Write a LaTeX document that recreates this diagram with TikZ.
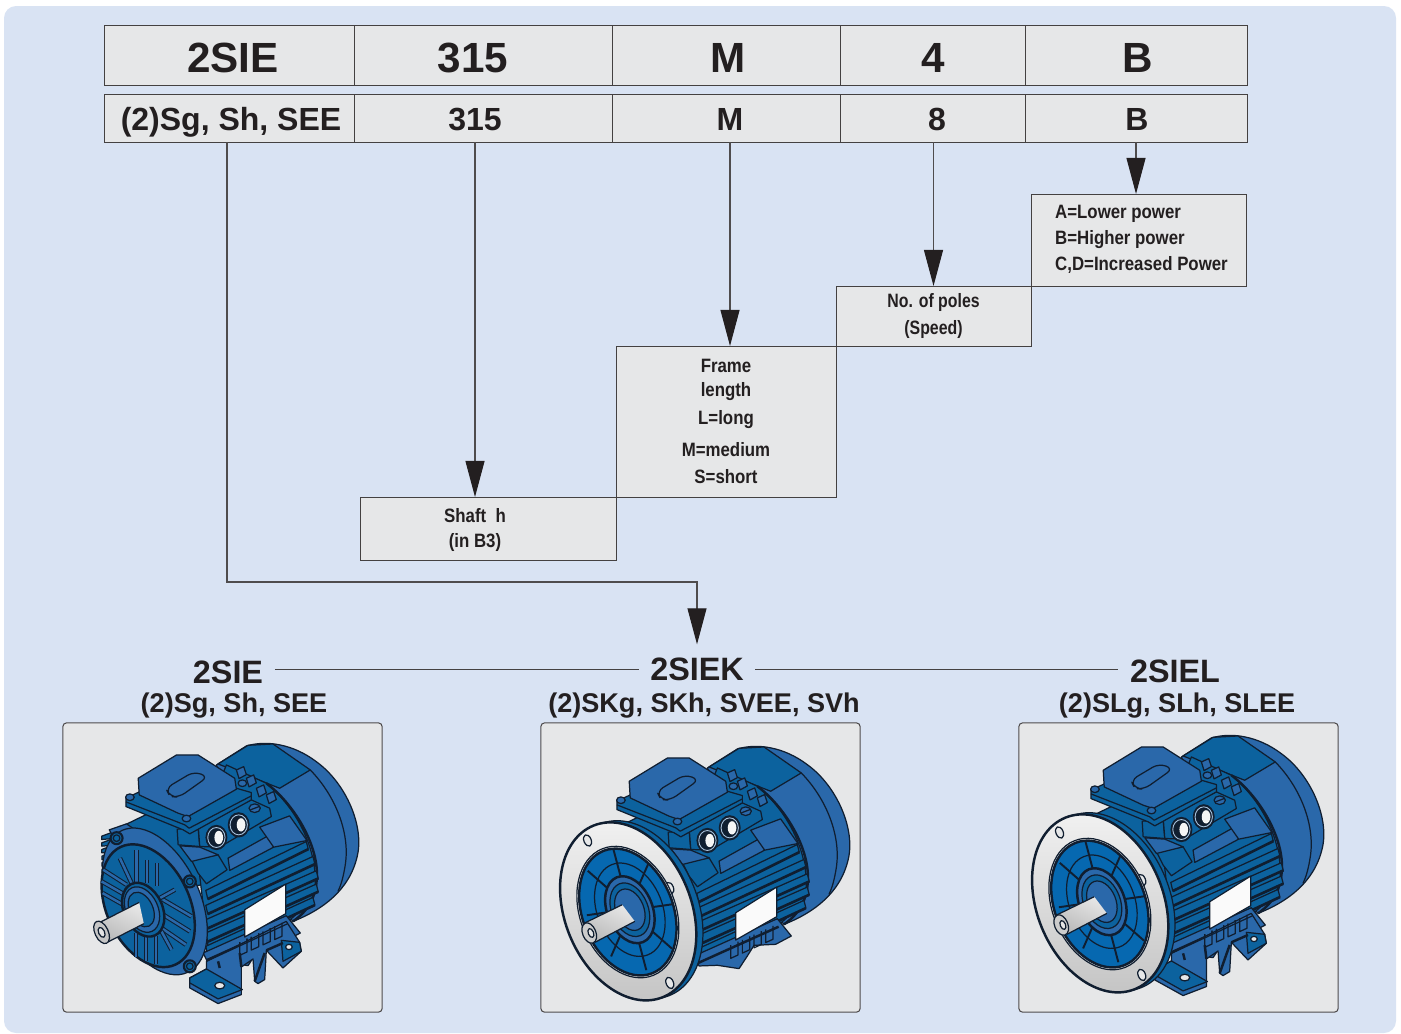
\documentclass[tikz,border=0pt]{standalone}
\usepackage{fontspec}
\setmainfont{Liberation Sans}
\newfontfamily\legendfont[FakeStretch=.87]{Liberation Sans}
\newfontfamily\polesfont[FakeStretch=.82]{Liberation Sans}
\usetikzlibrary{arrows.meta,positioning,calc}
\definecolor{panelBlue}{RGB}{217,227,243}
\definecolor{cellGray}{RGB}{230,231,232}
\definecolor{inkDark}{RGB}{35,31,32}
\definecolor{motorBlue}{RGB}{42,104,170}
\definecolor{motorDeep}{RGB}{12,98,158}
\definecolor{motorBright}{RGB}{6,104,176}
\definecolor{motorInk}{RGB}{16,30,48}
\tikzset{
  motorline/.style={draw=motorInk, line width=.35pt, line join=round},
  motorheavy/.style={draw=motorInk, line width=.7pt, line join=round},
  motorrib/.style={draw=motorInk, line width=.3pt, double=motorBlue, double distance=.7pt},
  motorrear/.pic={
    % fan cover
    \path[motorline, fill=motorBlue] (470,135) -- (560,78) .. controls (620,60) and (700,72) .. (770,125)
      .. controls (860,190) and (915,320) .. (893,410) .. controls (870,510) and (790,570) .. (700,605) -- (600,500) -- cycle;
    \path[motorline, fill=motorDeep] (475,132) -- (565,76) -- (640,72) -- (752,150) -- (660,205) -- cycle;
    \draw[motorline] (752,150) .. controls (830,230) and (870,340) .. (858,430) .. controls (852,470) and (845,495) .. (835,515);
    % body
    \path[motorline, fill=motorDeep] (185,320) -- (350,240) -- (500,200) -- (500,480) -- (400,500) -- cycle;
    \path[motorline, fill=motorDeep] (420,330) -- (500,135) -- (620,190) .. controls (720,270) and (790,420) .. (760,540)
      -- (680,610) -- (450,725) -- (420,470) -- cycle;
    \draw[motorheavy] (620,190) .. controls (700,250) and (775,370) .. (772,470) .. controls (770,530) and (745,575) .. (700,605);
    % stepped lugs beside the box
    \foreach \lugx/\lugy in {530/150,560/175,590/205,620/225} {
      \path[motorline, fill=motorBlue] (\lugx,\lugy) -- (\lugx+22,\lugy-10) -- (\lugx+30,\lugy+14) -- (\lugx+8,\lugy+26) -- cycle;
    }
    % fins
    \foreach \finy/\finx in {0/740,45/760,88/770,128/770,168/760} {
      \path[motorline, fill=motorDeep] (438,512+\finy) -- (\finx,365+\finy) -- (\finx+6,388+\finy) -- (444,538+\finy) -- cycle;
      \draw[line width=.75pt, draw=motorInk] (444,538+\finy) -- (\finx+6,388+\finy);
    }
    \path[motorline, fill=motorBlue] (505,415) -- (625,348) -- (642,382) -- (510,452) -- cycle;
    \path[motorline, fill=motorBlue] (600,322) -- (690,288) -- (742,362) -- (642,382) -- cycle;
    \path[motorline, fill=motorDeep] (395,420) -- (475,405) -- (502,450) -- (440,492) -- (415,460) -- cycle;
    % rail under the fins
    \path[motorline, fill=motorBlue] (430,700) -- (680,588) -- (722,640) -- (675,665) -- (610,668) -- (590,700) -- (565,738) -- (500,728) -- (445,730) -- cycle;
    \draw[motorheavy] (440,722) -- (684,612);
    \foreach \blockx in {540,575,610,645} {
      \draw[motorline] (\blockx,\blockx*-.45+910) -- (\blockx,\blockx*-.45+950) -- (\blockx+22,\blockx*-.45+940) -- (\blockx+22,\blockx*-.45+900);
    }
    % nameplate
    \path[motorline, fill=white!96!gray] (555,570) -- (678,493) -- (678,582) -- (555,652) -- cycle;
    % terminal box
    \path[motorline, fill=motorDeep] (352,328) -- (415,325) -- (420,380) -- (355,375) -- cycle;
    \path[motorline, fill=motorBlue] (360,378) -- (420,382) -- (475,405) -- (395,425) -- cycle;
    \path[motorline, fill=motorDeep] (415,315) -- (575,240) -- (630,265) -- (635,290) -- (480,382) -- (420,380) -- cycle;
    \path[motorline, fill=motorDeep] (198,235) -- (240,215) -- (385,285) -- (530,205) -- (575,218) -- (575,240) -- (390,342) -- (370,330) -- (198,260) -- cycle;
    \draw[motorline] (198,246) -- (375,315) -- (388,325) -- (575,228);
    \path[motorline, fill=motorBlue] (235,175) -- (350,105) -- (415,105) -- (525,175) -- (530,208) -- (385,290) -- (355,280) -- (238,225) -- cycle;
    \path[motorline, rounded corners=2pt] (318,205) -- (402,155) -- (445,170) -- (358,232) -- (330,230) -- cycle;
    \foreach \boltx/\bolty in {210/232,380/296,548/190} {
      \draw[motorline, fill=motorBlue] (\boltx,\bolty) ellipse (13 and 10);
    }
    \draw[motorline, fill=motorBlue] (585,265) ellipse (17 and 13);
    \draw[motorline] (572,270) -- (598,260);
    % glands
    \foreach \glandx/\glandy in {470/353,537/315} {
      \fill[motorInk] (\glandx,\glandy) ellipse (33 and 38);
      \draw[white!60!motorBlue, line width=.25pt] (\glandx,\glandy) ellipse (26 and 30);
      \fill[white!92!gray] (\glandx+7,\glandy) ellipse (13 and 20);
    }
  },
  motorfeet/.pic={
    \path[motorline, fill=motorBlue] (440,725) -- (680,605) -- (720,668) -- (725,695) -- (670,745) -- (620,692) -- (615,780) -- (595,792)
      -- (585,785) -- (580,718) -- (545,742) -- (545,825) -- (475,852) -- (390,805) -- (390,775) -- (440,748) -- cycle;
    \path[motorline, fill=motorDeep] (390,775) -- (440,748) -- (548,810) -- (475,838) -- (390,790) -- cycle;
    \path[motorline, fill=motorDeep] (665,662) -- (720,668) -- (725,695) -- (670,725) -- cycle;
    \draw[motorline, fill=cellGray] (480,798) ellipse (15 and 10);
    \draw[motorline, fill=cellGray] (688,682) ellipse (10 and 8);
    \draw[motorheavy] (475,725) -- (480,745) (540,700) -- (545,742) (585,785) -- (615,700) (620,692) -- (670,670);
    \draw[motorline] (440,725) -- (684,612);
    \foreach \blockx in {540,575,610,645} {
      \draw[motorline] (\blockx,\blockx*-.45+910) -- (\blockx,\blockx*-.45+950) -- (\blockx+22,\blockx*-.45+940) -- (\blockx+22,\blockx*-.45+900);
    }
  },
  motorshield/.pic={
    % cooling teeth behind the end shield
    \foreach \toothy in {335,355,375,395,415,435,455} {
      \path[motorline, fill=motorDeep] (185,\toothy-8) -- (122+\toothy*0.01,\toothy+14) -- (122+\toothy*0.01,\toothy+24) -- (195,\toothy+18) -- cycle;
    }
    \path[motorline, fill=motorBlue] (148,330) -- (200,312) -- (240,340) -- (180,385) -- cycle;
    \draw[motorline, fill=motorBlue, rotate around={25:(285,545)}] (285,545) ellipse (135 and 235);
    \draw[motorheavy, fill=motorDeep, rotate around={25:(265,558)}] (265,558) ellipse (125 and 195);
    % face ribs
    \foreach \ribxa/\ribya/\ribxb/\ribyb in {130/450/200/495,125/485/195/525,128/520/190/555,310/540/395/590,310/585/390/635,305/625/378/675,
        230/390/230/490,262/420/262/490,292/430/292/500,228/640/228/712,258/650/258/725,288/650/288/732} {
      \draw[motorrib] (\ribxa,\ribya) -- (\ribxb,\ribyb);
    }
    \draw[motorrib] (180,415) -- (215,490);
    \draw[motorrib] (345,510) -- (300,535);
    \draw[motorrib] (335,690) -- (305,635);
    \begin{scope}[shift={(250,570)}, rotate=25]
      \draw[motorheavy, fill=motorDeep] (0,0) ellipse (58 and 85);
      \draw[motorline, fill=motorBlue] (-3,-2) ellipse (48 and 72);
      \draw[motorline, fill=motorDeep] (-5,-3) ellipse (35 and 55);
    \end{scope}
    \foreach \boltx/\bolty in {170/355,390/485,390/740} {
      \draw[motorline, fill=motorDeep, line width=.6pt] (\boltx,\bolty) circle (18);
      \draw[motorline] (\boltx,\bolty) circle (10);
    }
    \shade[top color=gray!20, middle color=white, bottom color=gray!55, shading angle=-25] (238,548) -- (112,612) -- (142,668) -- (252,612) -- cycle;
    \draw[motorline] (238,548) -- (112,612) (142,668) -- (252,612);
    \draw[motorline, fill=gray!45, rotate around={25:(125,638)}] (125,638) ellipse (20 and 36);
    \draw[motorline, fill=gray!20, rotate around={25:(125,638)}] (125,638) ellipse (9 and 16);
  },
  motorflange/.pic={
    \draw[motorline, fill=motorDeep, rotate around={22:(300,570)}] (300,570) ellipse (190 and 278);
    \draw[motorheavy, top color=gray!12, bottom color=gray!45, rotate around={22:(280,575)}] (280,575) ellipse (190 and 278);
    \foreach \holex/\holey in {158/362,405/505,405/790} {
      \draw[motorline, fill=cellGray, rotate around={22:(\holex,\holey)}] (\holex,\holey) ellipse (11 and 18);
    }
    \draw[motorline, fill=gray!10, rotate around={22:(279,577)}] (279,577) ellipse (143 and 205);
    \draw[motorheavy, fill=motorBright, rotate around={22:(279,577)}] (279,577) ellipse (136 and 198);
    \begin{scope}[shift={(285,570)}, rotate=22]
      \foreach \ribangle in {10,55,100,145,190,235,280,325} {
        \draw[motorline, line width=.55pt] (\ribangle:62 and 98) -- (\ribangle:128 and 190);
      }
      \draw[motorline] (0,0) ellipse (98 and 146);
      \draw[motorheavy, fill=motorBlue] (0,0) ellipse (68 and 105);
      \draw[motorline, fill=motorDeep] (0,0) ellipse (55 and 84);
      \draw[motorline, fill=motorBlue] (0,0) ellipse (42 and 65);
    \end{scope}
    \shade[top color=gray!20, middle color=white, bottom color=gray!55, shading angle=-25] (262,555) -- (145,612) -- (180,668) -- (300,605) -- cycle;
    \draw[motorline] (262,555) -- (145,612) (180,668) -- (300,605);
    \draw[motorline, fill=gray!40, rotate around={22:(163,640)}] (163,640) ellipse (20 and 32);
    \draw[motorline, fill=gray!20, rotate around={22:(168,640)}] (168,640) ellipse (8 and 14);
  }
}
\begin{document}
\begin{tikzpicture}[
  x=0.01cm, y=-0.01cm,
  cell/.style={draw=inkDark!85, line width=.25pt, fill=cellGray, inner sep=0pt, outer sep=0pt},
  headtext/.style={font=\bfseries\fontsize{12}{14}\selectfont, text=inkDark, inner sep=0pt},
  subtext/.style={font=\bfseries\fontsize{9.1}{11}\selectfont, text=inkDark, inner sep=0pt, anchor=base},
  labeltext/.style={font=\bfseries\fontsize{7.7}{10}\selectfont, text=inkDark, inner sep=0pt, anchor=base},
  smalltext/.style={font=\legendfont\bfseries\fontsize{5.5}{7.4}\selectfont, text=inkDark, align=center},
  seriestext/.style={font=\bfseries\fontsize{9.2}{11}\selectfont, text=inkDark, inner ysep=0pt, inner xsep=.11cm, minimum height=.48cm},
  feed/.style={draw=inkDark!80, line width=.3pt, -{Triangle[length=3.6mm,width=1.9mm,color=inkDark]}},
  tie/.style={draw=inkDark!85, line width=.25pt},
  photo/.style={draw=inkDark!80, line width=.3pt, fill=cellGray, rounded corners=1pt, minimum width=3.19cm, minimum height=2.89cm, inner sep=0pt}
]
  \useasboundingbox (0,0) rectangle (1401,1033);
  \fill[panelBlue, rounded corners=.12cm] (4,6) rectangle (1396,1033);

  % code rows
  \node[cell, minimum width=2.50cm, minimum height=.60cm] (codeType)  at (230,55)    {};
  \node[cell, minimum width=2.57cm, minimum height=.60cm] (codeShaft) at (483.5,55)  {};
  \node[cell, minimum width=2.28cm, minimum height=.60cm] (codeLen)   at (726,55)    {};
  \node[cell, minimum width=1.85cm, minimum height=.60cm] (codePole)  at (932.5,55)  {};
  \node[cell, minimum width=2.22cm, minimum height=.60cm] (codePow)   at (1136,55)   {};
  \node[cell, minimum width=2.50cm, minimum height=.48cm] (rowType)   at (230,118)   {};
  \node[cell, minimum width=2.57cm, minimum height=.48cm] (rowShaft)  at (483.5,118) {};
  \node[cell, minimum width=2.28cm, minimum height=.48cm] (rowLen)    at (726,118)   {};
  \node[cell, minimum width=1.85cm, minimum height=.48cm] (rowPole)   at (932.5,118) {};
  \node[cell, minimum width=2.22cm, minimum height=.48cm] (rowPow)    at (1136,118)  {};

  \node[headtext] at (233,58)  {2SIE};
  \node[headtext] at (473,58)  {315};
  \node[headtext] at (728,58)  {M};
  \node[headtext] at (933,58)  {4};
  \node[headtext] at (1138,58) {B};
  \node[subtext] (tType)  at (231,130)  {(2)Sg, Sh, SEE};
  \node[subtext] (tShaft) at (475,130)  {315};
  \node[subtext] (tLen)   at (730,130)  {M};
  \node[subtext] (tPole)  at (937,130)  {8};
  \node[subtext] (tPow)   at (1137,130) {B};

  % legend boxes
  \node[cell, minimum width=2.15cm, minimum height=.92cm] (powerBox) at (1138.5,240) {};
  \node[smalltext, align=left, anchor=west, inner sep=0pt] (powerText) at (1054.5,239)
    {A=Lower power\\B=Higher power\\C,D=Increased Power};
  \node[cell, smalltext, font=\polesfont\bfseries\fontsize{5.5}{7.6}\selectfont, minimum width=1.95cm, minimum height=.60cm] (poleBox) at (933.5,316)
    {No. of poles\\(Speed)};
  \node[cell, smalltext, font=\legendfont\bfseries\fontsize{5.5}{6.8}\selectfont, minimum width=2.20cm, minimum height=1.51cm] (lenBox) at (726,421.5)
    {Frame\\length\\[1.4pt]L=long\\[2.3pt]M=medium\\[.9pt]S=short};
  \node[cell, minimum width=2.55cm, minimum height=.63cm] (shaftBox) at (488.5,528.5) {};
  \node[smalltext, font=\legendfont\bfseries\fontsize{5.5}{7.1}\selectfont] (shaftText) at (475,530) {Shaft\ \ h\\(in B3)};

  \draw[feed] (rowPow.south)  -- (rowPow.south |- powerBox.north);
  \draw[feed] (rowPole.south -| poleBox.north) -- (poleBox.north);
  \draw[feed] (tLen |- rowLen.south) -- (tLen |- lenBox.north);
  \draw[feed] (tShaft |- rowShaft.south) -- (tShaft |- shaftBox.north);

  % series row
  \node[seriestext] (serPlain)  at (228,672)  {2SIE};
  \node[seriestext] (serShort)  at (697,669)  {2SIEK};
  \node[seriestext] (serLong)   at (1175,671) {2SIEL};
  \node[labeltext] at (234,712)  {(2)Sg, Sh, SEE};
  \node[labeltext] at (704,712)  {(2)SKg, SKh, SVEE, SVh};
  \node[labeltext] at (1177,712) {(2)SLg, SLh, SLEE};

  \coordinate (busLeft)  at (227,582);
  \coordinate (busRight) at (697,582);
  \draw[feed] (busLeft |- rowType.south) -- (busLeft) -- (busRight) -- (serShort.north);
  \draw[tie] (serPlain.east |- serShort.center) -- (serShort.west);
  \draw[tie] (serShort.east) -- (serLong.west |- serShort.center);

  % motor pictures
  \node[photo] (photoPlain) at (222.5,867.5)  {};
  \node[photo] (photoShort) at (700.5,867.5)  {};
  \node[photo] (photoLong)  at (1178.5,867.5) {};

  \begin{scope}[shift={(60,720)}, x=.00333cm, y=-.00333cm]
    \pic {motorrear}; \pic {motorfeet}; \pic {motorshield};
  \end{scope}
  \begin{scope}[shift={(551,723)}, x=.00333cm, y=-.00333cm]
    \pic {motorrear};
  \end{scope}
  \begin{scope}[shift={(535,720)}, x=.00333cm, y=-.00333cm]
    \pic {motorflange};
  \end{scope}
  \begin{scope}[shift={(1025,712)}, x=.00333cm, y=-.00333cm]
    \pic {motorrear}; \pic {motorfeet};
  \end{scope}
  \begin{scope}[shift={(1007,712)}, x=.00333cm, y=-.00333cm]
    \pic {motorflange};
  \end{scope}
\end{tikzpicture}
\end{document}
